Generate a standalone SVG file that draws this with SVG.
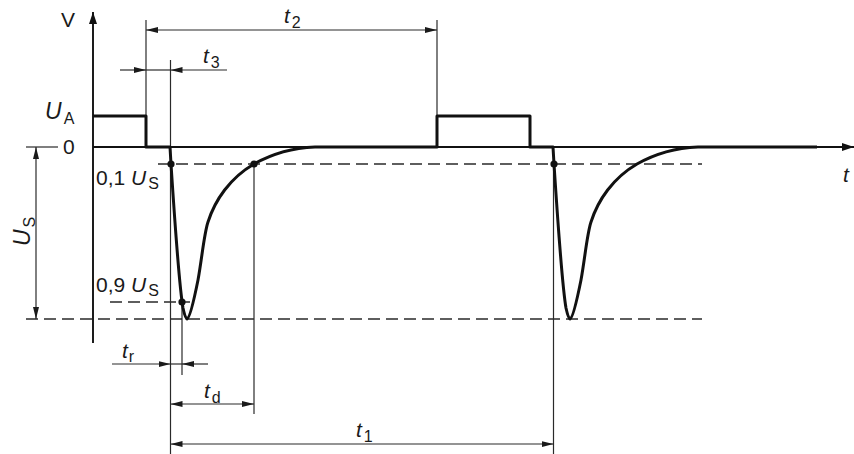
<svg xmlns="http://www.w3.org/2000/svg" width="854" height="454" viewBox="0 0 854 454">
<style>
.lbl{font-family:"Liberation Sans",Arial,sans-serif;font-size:21px;fill:#1a1a1a}
.it{font-style:italic}
.sub{font-size:16px;font-style:normal}
.thin{stroke:#2a2a2a;stroke-width:1.2;fill:none}
.dash{stroke:#2a2a2a;stroke-width:1.3;fill:none;stroke-dasharray:12 6}
.wave{stroke:#111;stroke-width:3;fill:none;stroke-linejoin:round}
.axis{stroke:#111;stroke-width:1.9;fill:none}
.dot{fill:#111}
</style>
<defs>
<marker id="ah" viewBox="0 0 12 6" refX="12" refY="3" markerWidth="12" markerHeight="6" markerUnits="userSpaceOnUse" orient="auto-start-reverse">
<path d="M0,0 L12,3 L0,6 Z" fill="#1a1a1a"/>
</marker>
<marker id="axh" viewBox="0 0 12 8" refX="12" refY="4" markerWidth="12" markerHeight="8" markerUnits="userSpaceOnUse" orient="auto">
<path d="M0,0 L12,4 L0,8 Z" fill="#111"/>
</marker>
</defs>
<rect width="854" height="454" fill="#fff"/>

<g id="axes">
<line class="axis" x1="93" y1="343" x2="93" y2="12" marker-end="url(#axh)"/>
<line class="axis" x1="93" y1="147" x2="854" y2="147" stroke-width="1.5" marker-end="url(#axh)"/>
<line class="thin" x1="26" y1="147" x2="58" y2="147"/>
</g>

<g id="reference-lines">
<line class="dash" x1="158" y1="164" x2="702" y2="164"/>
<line class="dash" x1="110" y1="302" x2="190" y2="302"/>
<line class="dash" x1="26" y1="319" x2="702" y2="319"/>
<line class="thin" x1="146" y1="20" x2="146" y2="116"/>
<line class="thin" x1="437" y1="20" x2="437" y2="116"/>
<line class="thin" x1="170.5" y1="60" x2="170.5" y2="454"/>
<line class="thin" x1="182" y1="302" x2="182" y2="375"/>
<line class="thin" x1="254" y1="164" x2="254" y2="414"/>
<line class="thin" x1="553.5" y1="164" x2="553.5" y2="454"/>
</g>

<g id="waveform">
<path class="wave" d="M93,116 H146 V147 H170 L171,164 C174,210 179,285 183,308 C185,317 186,319 187,319 C190,318 194,300 198,280 C202,258 204,234 208,222 C215,200 230,178 254,164 C270,155 290,148 315,147 H437 V116 H530 V147 H553 L554,164 C557,210 562,285 566,308 C568,317 569,319 570,319 C573,318 577,300 581,280 C585,258 587,234 591,222 C598,200 613,178 637,164 C653,155 673,148 698,147 H817"/>
<circle class="dot" cx="171" cy="164" r="3.6"/>
<circle class="dot" cx="254" cy="164" r="3.6"/>
<circle class="dot" cx="182" cy="302" r="3.6"/>
<circle class="dot" cx="554" cy="164" r="3.6"/>
</g>

<g id="dimensions">
<line class="thin" x1="146" y1="30" x2="437" y2="30" marker-start="url(#ah)" marker-end="url(#ah)"/>
<line class="thin" x1="120" y1="70" x2="146" y2="70" marker-end="url(#ah)"/>
<line class="thin" x1="146" y1="70" x2="170.5" y2="70"/>
<line class="thin" x1="227" y1="70" x2="170.5" y2="70" marker-end="url(#ah)"/>
<line class="thin" x1="36" y1="147" x2="36" y2="319" marker-start="url(#ah)" marker-end="url(#ah)"/>
<line class="thin" x1="112" y1="364" x2="170.5" y2="364" marker-end="url(#ah)"/>
<line class="thin" x1="170.5" y1="364" x2="182" y2="364"/>
<line class="thin" x1="208" y1="364" x2="182" y2="364" marker-end="url(#ah)"/>
<line class="thin" x1="170.5" y1="404" x2="254" y2="404" marker-start="url(#ah)" marker-end="url(#ah)"/>
<line class="thin" x1="170.5" y1="444" x2="553.5" y2="444" marker-start="url(#ah)" marker-end="url(#ah)"/>
</g>

<g id="labels">
<text class="lbl" x="61" y="27">V</text>
<text class="lbl" x="843" y="182"><tspan class="it">t</tspan></text>
<text class="lbl" x="45" y="119"><tspan class="it" font-size="23">U</tspan><tspan class="sub" dx="2" dy="5">A</tspan></text>
<text class="lbl" x="63" y="154">0</text>
<text class="lbl" x="96" y="185">0,1 <tspan class="it">U</tspan><tspan class="sub" dx="2" dy="4">S</tspan></text>
<text class="lbl" x="96" y="292">0,9 <tspan class="it">U</tspan><tspan class="sub" dx="2" dy="4">S</tspan></text>
<text class="lbl" transform="translate(30,246) rotate(-90)"><tspan class="it" font-size="23">U</tspan><tspan class="sub" dx="2" dy="5">S</tspan></text>
<text class="lbl" x="284" y="23"><tspan class="it">t</tspan><tspan class="sub" dx="2" dy="5">2</tspan></text>
<text class="lbl" x="203" y="63"><tspan class="it">t</tspan><tspan class="sub" dx="2" dy="5">3</tspan></text>
<text class="lbl" x="122" y="358"><tspan class="it">t</tspan><tspan class="sub" dx="1" dy="4">r</tspan></text>
<text class="lbl" x="204" y="398"><tspan class="it">t</tspan><tspan class="sub" dx="2" dy="5">d</tspan></text>
<text class="lbl" x="356" y="437"><tspan class="it">t</tspan><tspan class="sub" dx="2" dy="5">1</tspan></text>
</g>
</svg>
